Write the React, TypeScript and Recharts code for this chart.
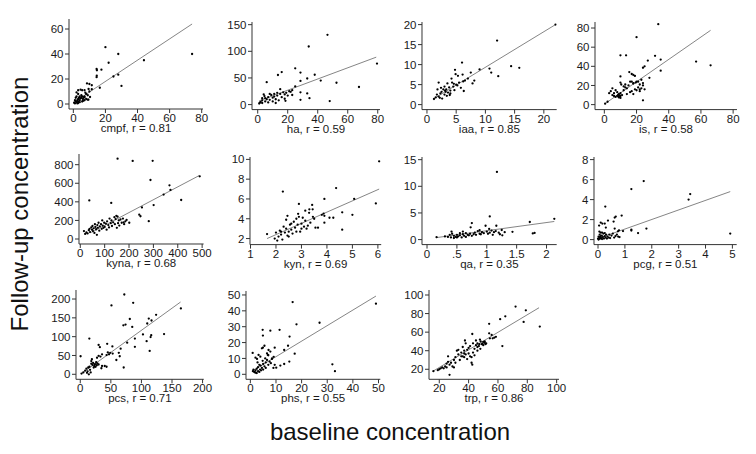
import React from 'react';
import { ScatterChart, Scatter, XAxis, YAxis, ReferenceLine } from 'recharts';

type Pt = [number, number];

const names = ['cmpf', 'ha', 'iaa', 'is', 'kyna', 'kyn', 'qa', 'pcg', 'pcs', 'phs', 'trp'];
const rValues = [0.81, 0.59, 0.85, 0.58, 0.68, 0.69, 0.35, 0.51, 0.71, 0.55, 0.86];

const cmpfPts: Pt[] = [
  [20, 45.5], [28, 40], [74, 40], [44, 35], [22, 33], [14.5, 28], [14.7, 27], [17.5, 27.5],
  [14.6, 22.7], [14.5, 21.5], [25, 22], [28, 23.5], [16.5, 13], [30, 14.5], [8.5, 16.5], [10, 16],
  [11.5, 15], [9.5, 12], [11.5, 11.8], [3, 11], [4.5, 11.5], [5.5, 11], [7, 11], [2, 9.3], [3, 8],
  [6.9, 5.3], [9.4, 3.5], [10.4, 5.6], [0.5, 1], [1, 0.5], [1.5, 2], [1, 3], [2, 1.5], [2.5, 3],
  [3, 2], [3, 4], [3.5, 5], [4, 3], [4, 6], [4.5, 4.5], [5, 5], [5, 7], [5.5, 6], [6, 4], [6, 2.5],
  [6.5, 5.5], [7, 3], [7, 6], [8, 4], [8, 8], [9, 3.5], [10, 10], [2, 6], [1.5, 5], [2.5, 0.5],
  [4, 1.5], [5.5, 2], [3, 0.8], [7.5, 9], [9, 7],
];
const haPts: Pt[] = [
  [46.5, 131], [34, 109], [25, 68], [16, 61], [28.5, 60], [13.5, 55.5], [38, 56], [6, 42], [33, 49],
  [28.5, 44.5], [42, 45], [52.5, 41], [79.5, 77], [67.5, 33], [48, 6.5], [28.5, 9], [34.5, 12],
  [33, 21], [28.5, 23], [25, 34], [15, 29], [18, 11], [18.5, 7], [1, 2], [1.5, 3.5], [2, 5], [3, 3],
  [3, 8], [4, 19], [4.5, 16], [5, 12], [5, 6], [6, 10], [7, 14], [7, 4], [8, 9], [9, 18], [10, 6],
  [10, 13], [11, 20], [11, 15], [12, 10], [12, 3], [13, 17], [14, 8], [15, 20], [16, 14], [17, 23],
  [18, 19], [19, 22], [20, 17], [21, 25], [22, 24], [23, 27], [23, 18], [8, 20], [3, 12], [13, 22],
];
const iaaPts: Pt[] = [
  [22, 20], [12, 16], [6, 10.5], [14.4, 9.6], [15.8, 9.2], [10.7, 9], [11, 8], [12.2, 7.1], [9, 8.8],
  [7.5, 8], [8.1, 6], [7.8, 5.3], [6.3, 3.4], [4.8, 8.7], [4.9, 7.6], [5.3, 7.2], [6.1, 7.5], [4.2, 6.5],
  [1.2, 1.4], [1.5, 1.8], [1.7, 2.5], [1.8, 3.8], [2, 5.5], [2, 2], [2.2, 1.7], [2.3, 2.8], [2.5, 3.2],
  [2.6, 1.5], [2.8, 3.8], [3, 2.5], [3, 4.5], [3.2, 3.2], [3.3, 3.8], [3.4, 2.2], [3.5, 5.3], [3.6, 3],
  [3.8, 4.3], [4, 2.8], [4, 3.5], [4.3, 5.5], [4.5, 4.5], [4.7, 3.6], [5, 5], [5.2, 4.8], [5.5, 5.5],
  [5.8, 4.2], [6.5, 6], [7, 6.5], [2.4, 4.2], [3.1, 3.5], [3.9, 2.4], [4.6, 5.2], [6.2, 5.8],
];
const isPts: Pt[] = [
  [33.5, 84], [20, 70.5], [10, 51.5], [13.5, 51.5], [31.5, 51], [35, 47], [57, 45], [66, 41], [27, 46],
  [25, 40], [24, 38.5], [35, 35.5], [10, 29.5], [15.5, 34], [17, 32], [18, 31], [19, 30], [28, 28],
  [17, 24], [18, 22.5], [19.5, 23], [21, 24], [23, 26], [22, 21], [24, 22.5], [10, 23], [10.5, 21],
  [24, 4.5], [0.5, 1], [2, 3], [5, 10], [6, 12], [7, 8], [8, 9], [8.5, 10], [9, 8], [9, 11], [9.5, 9.5],
  [10, 7], [10, 12], [8, 13], [7, 15], [5, 17], [11, 10], [12, 15], [12, 19], [13, 18], [14, 17],
  [14, 11], [16, 13], [17, 14], [18, 11], [19, 16], [20, 15], [21, 18], [22, 16], [23, 17], [24, 20],
  [25, 16], [22, 14], [3, 12], [4, 14], [6, 9], [9, 7.5], [10, 9], [18, 22], [20, 24], [15, 20],
  [13, 21], [16, 24],
];
const kynaPts: Pt[] = [
  [153, 865], [215, 840], [297, 842], [288, 635], [366, 578], [370, 528], [490, 675], [342, 478],
  [414, 420], [37, 415], [127, 388], [253, 340], [242, 262], [247, 245], [281, 192], [301, 365],
  [201, 175], [178, 180], [15, 85], [20, 55], [25, 70], [30, 60], [35, 95], [38, 110], [40, 75],
  [45, 125], [48, 100], [50, 140], [52, 85], [55, 115], [58, 65], [60, 160], [62, 130], [65, 105],
  [68, 45], [70, 150], [72, 120], [75, 175], [78, 90], [80, 135], [85, 160], [88, 110], [90, 200],
  [92, 145], [95, 120], [98, 175], [100, 130], [105, 165], [108, 100], [110, 190], [115, 150],
  [118, 125], [120, 220], [125, 170], [128, 200], [130, 140], [135, 180], [140, 235], [142, 160],
  [145, 215], [148, 250], [150, 120], [153, 240], [155, 170], [158, 200], [160, 145], [165, 210],
  [170, 175], [175, 220], [180, 160], [185, 190], [190, 205],
];
const kynPts: Pt[] = [
  [6.05, 9.8], [2.27, 6.75], [4.36, 7.1], [5.07, 6.0], [3.9, 6.0], [5.92, 5.55], [2.9, 5.5], [3.42, 5.4],
  [3.31, 4.95], [3.44, 4.95], [3.15, 4.82], [5.0, 4.4], [4.6, 4.65], [3.87, 4.52], [3.8, 4.4], [3.9, 4.3],
  [4.1, 4.1], [4.25, 4.1], [3.9, 3.6], [4.6, 2.9], [3.55, 3.1], [3.65, 3.1], [2.45, 4.3], [2.87, 4.5],
  [1.65, 2.45], [1.95, 2.0], [2.0, 2.6], [2.05, 1.8], [2.1, 2.2], [2.15, 2.8], [2.2, 2.4], [2.25, 1.9],
  [2.3, 3.2], [2.35, 2.6], [2.4, 3.0], [2.45, 2.3], [2.5, 2.7], [2.55, 3.4], [2.6, 2.9], [2.65, 2.5],
  [2.7, 3.7], [2.75, 3.1], [2.8, 2.7], [2.85, 3.4], [2.9, 4.2], [2.95, 2.7], [3.0, 3.5], [3.0, 3.0],
  [3.05, 4.1], [3.1, 3.2], [3.15, 3.8], [3.25, 3.3], [3.3, 4.6], [3.35, 3.6], [3.45, 4.2], [3.5, 4.0],
  [2.4, 3.9], [2.6, 3.5], [2.8, 4.0], [3.2, 3.0], [2.2, 2.7], [2.5, 2.2],
];
const qaPts: Pt[] = [
  [1.17, 12.7], [1.05, 4.35], [0.75, 3.1], [0.98, 2.6], [1.16, 2.6], [0.73, 2.3], [1.72, 3.3], [2.13, 3.9],
  [1.77, 1.15], [1.8, 1.25], [1.43, 1.45], [1.3, 1.4], [1.22, 1.0], [1.26, 0.8], [1.12, 1.4], [1.1, 0.9],
  [0.16, 0.45], [0.41, 1.5], [0.6, 1.5], [0.88, 1.75], [1.04, 2.0], [0.3, 0.6], [0.35, 0.5], [0.38, 0.9],
  [0.4, 0.4], [0.42, 1.1], [0.45, 0.7], [0.48, 0.5], [0.5, 0.9], [0.52, 0.6], [0.55, 0.8], [0.58, 0.4],
  [0.6, 1.0], [0.62, 0.7], [0.65, 1.2], [0.68, 0.9], [0.7, 0.8], [0.72, 1.1], [0.75, 0.7], [0.78, 1.0],
  [0.8, 1.3], [0.82, 0.9], [0.85, 1.6], [0.88, 1.1], [0.9, 1.0], [0.92, 1.4], [0.95, 1.2], [1.0, 1.5],
  [1.02, 1.1], [1.05, 1.3], [1.08, 1.7], [1.15, 1.6], [1.2, 1.3], [1.25, 1.8], [0.5, 0.4], [0.45, 0.3],
  [0.65, 0.5], [0.55, 1.2],
];
const pcgPts: Pt[] = [
  [1.7, 5.85], [1.24, 5.05], [3.37, 4.0], [3.43, 4.55], [4.92, 0.6], [1.8, 1.1], [1.24, 1.0], [1.24, 0.9],
  [1.49, 0.65], [0.27, 3.3], [0.88, 2.4], [0.62, 2.2], [0.66, 2.3], [0.37, 1.9], [0.1, 1.7], [0.16, 1.6],
  [0.04, 1.4], [0.25, 1.6], [0.58, 1.8], [0.29, 1.2], [0.62, 1.1], [0.74, 0.83], [0.78, 0.93], [0.93, 0.85],
  [0.0, 0.1], [0.02, 0.3], [0.03, 0.05], [0.05, 0.2], [0.06, 0.5], [0.08, 0.1], [0.1, 0.35], [0.1, 0.7],
  [0.12, 0.15], [0.14, 0.4], [0.15, 0.05], [0.18, 0.25], [0.2, 0.6], [0.22, 0.1], [0.25, 0.35], [0.28, 0.2],
  [0.3, 0.5], [0.33, 0.1], [0.35, 0.3], [0.4, 0.2], [0.42, 0.5], [0.45, 0.15], [0.5, 0.4], [0.55, 0.6],
  [0.6, 0.2], [0.65, 0.35], [0.7, 0.5], [0.75, 0.3], [0.8, 0.25], [0.05, 0.8], [0.15, 0.7], [0.25, 0.65],
  [0.02, 0.0], [0.07, 0.25],
];
const pcsPts: Pt[] = [
  [72, 212], [86.5, 190], [51, 183], [81, 147], [70.5, 130], [74, 132], [85, 126], [124, 158], [112, 148],
  [116.5, 143], [109.5, 135], [164.5, 175], [137, 107], [102.5, 106], [116, 104], [115, 99], [108.5, 88],
  [89.3, 95], [89.3, 73], [113.5, 62], [76.7, 84], [66, 68], [52.5, 74], [63, 57], [64.5, 48], [53, 55],
  [59, 38], [71, 18], [0.5, 48], [14.8, 95], [30, 78], [32, 72], [44, 81], [45, 58], [47, 53], [49, 57],
  [43, 51], [35.6, 53], [33, 47], [30, 49], [27.4, 44], [40, 22], [43, 20], [34.5, 16], [35.6, 22],
  [2, 2], [5, 5], [8, 10], [10, 15], [12, 8], [14, 0], [15, 20], [16, 12], [18, 28], [18, 35], [20, 25],
  [21, 30], [22, 18], [23, 22], [24, 27], [25, 20], [26, 32], [27, 24], [28, 29], [30, 26], [19, 40],
  [13, 18], [11, 4], [17, 5],
];
const phsPts: Pt[] = [
  [16.5, 45.5], [49, 44.5], [27, 32.5], [18, 31.5], [4.8, 28], [7.8, 27.5], [11.4, 28], [4.9, 24.4],
  [15.3, 23.8], [5.5, 18], [4.9, 16.8], [4.5, 16.4], [9.5, 16.8], [7.8, 14.3], [7.1, 15.3], [14.7, 18],
  [13.2, 15.3], [17.3, 13], [0.9, 13.5], [2, 10.5], [2.6, 9.7], [3.2, 12.2], [3.9, 11.1], [6.5, 13.2],
  [6.8, 12.2], [8.4, 9.7], [9.1, 11], [10.1, 4.2], [11.7, 5.5], [13.2, 6.5], [15.2, 8], [32, 6.3], [33, 2],
  [1, 2], [1.2, 3], [1.5, 1.5], [2, 2.5], [2.2, 1], [2.5, 3.5], [3, 2], [3, 4.5], [3.5, 1.5], [3.8, 3],
  [4, 5.5], [4.2, 2.5], [4.5, 4], [5, 6.5], [5, 3], [5.5, 5], [6, 7.5], [6, 4], [6.5, 9], [7, 6], [7.5, 8],
  [8, 7], [8.5, 10], [9, 4], [9.5, 6], [3.5, 6], [2.8, 7.5], [4.8, 8.5], [5.8, 10], [7, 12], [1.8, 1.2],
  [2.5, 0.8],
];
const trpPts: Pt[] = [
  [72, 87.5], [79, 83.5], [77.5, 71], [88.5, 66], [65, 77], [61.5, 74], [54, 69], [42.5, 58], [63, 45],
  [54, 58.7], [55.7, 57], [58.6, 55], [57.5, 54], [56.4, 53.3], [54.5, 53.3], [37.5, 51], [47.7, 52],
  [48.2, 50], [50, 49.5], [51, 48.5], [49.5, 47.5], [51.5, 47], [45, 51], [46, 48], [47.3, 47], [42, 27],
  [42.5, 25], [27, 14], [16, 18], [19, 19], [20, 20], [21, 21], [22, 22], [23, 21], [24, 23], [25, 26],
  [25, 22], [26, 34], [26, 28], [27, 25], [28, 27], [29, 23], [30, 22], [30, 30], [31, 33], [31, 27],
  [32, 40], [33, 36], [33, 41], [34, 30], [35, 38], [36, 34], [36, 44], [37, 33], [37, 40], [38, 36],
  [38, 48], [39, 31], [40, 37], [40, 43], [41, 45], [41, 34], [42, 33], [43, 48], [43, 38], [44, 42],
  [44, 35], [45, 46], [46, 40], [46, 44], [47, 45], [48, 42], [49, 47], [50, 46], [51, 50], [52, 48],
  [35, 34], [37, 37], [39, 41],
];

// fitted line end points
const fits: Pt[][] = [
  [[0.3, 1.3], [74, 64]],
  [[1, 7], [79, 89]],
  [[1.2, 1.5], [22, 20]],
  [[0.4, 1], [66, 77.6]],
  [[45, 70], [488, 683]],
  [[1.65, 2.0], [6.05, 7.0]],
  [[0.157, 0.37], [2.13, 3.4]],
  [[0, 0.1], [4.92, 4.8]],
  [[2.8, 2.7], [164, 192]],
  [[0.7, 2], [49, 49.3]],
  [[16, 18.2], [88, 86.3]],
];

const xTicks: number[][] = [
  [0, 20, 40, 60, 80], [0, 20, 40, 60, 80], [0, 5, 10, 15, 20], [0, 20, 40, 60, 80],
  [0, 100, 200, 300, 400, 500], [1, 2, 3, 4, 5, 6], [0, 0.5, 1, 1.5, 2], [0, 1, 2, 3, 4, 5],
  [0, 50, 100, 150, 200], [0, 10, 20, 30, 40, 50], [20, 40, 60, 80, 100],
];
const yTicks: number[][] = [
  [0, 20, 40, 60], [0, 50, 100, 150], [0, 5, 10, 15, 20], [0, 20, 40, 60, 80],
  [0, 200, 400, 600, 800], [2, 4, 6, 8, 10], [0, 5, 10, 15], [0, 2, 4, 6, 8],
  [0, 50, 100, 150, 200], [0, 10, 20, 30, 40, 50], [20, 40, 60, 80, 100],
];

const allPts = [cmpfPts, haPts, iaaPts, isPts, kynaPts, kynPts, qaPts, pcgPts, pcsPts, phsPts, trpPts];

// plot-area box (page px) and axis ranges for each panel
const layout = [
  { l: 69, r: 203, t: 19.3, b: 109.3, xd: [-2.7, 80.8], yd: [-4, 68] },
  { l: 252, r: 380, t: 21.7, b: 109.3, xd: [-3.8, 81.5], yd: [-9.4, 155] },
  { l: 422.3, r: 557, t: 21.7, b: 109.3, xd: [-0.85, 22.2], yd: [-1.25, 20.65] },
  { l: 595, r: 737, t: 21.7, b: 109.3, xd: [-5.8, 82.4], yd: [-5.2, 86.3] },
  { l: 78.7, r: 203.3, t: 154.3, b: 244.3, xd: [-5.3, 506], yd: [-53.8, 915] },
  { l: 249.5, r: 380.7, t: 156.7, b: 244.3, xd: [0.98, 6.13], yd: [1.39, 10.24] },
  { l: 422.3, r: 557, t: 156.7, b: 244.3, xd: [-0.084, 2.17], yd: [-0.94, 15.5] },
  { l: 594.3, r: 737, t: 156.7, b: 244.3, xd: [-0.15, 5.16], yd: [-0.5, 8.26] },
  { l: 75.7, r: 203.5, t: 290, b: 379.3, xd: [-7, 202], yd: [-13.3, 224] },
  { l: 245.7, r: 380, t: 291, b: 379.3, xd: [-1.7, 50.7], yd: [-3.15, 52.5] },
  { l: 429, r: 559, t: 290, b: 379.3, xd: [13, 101.6], yd: [9.2, 105.4] },
];

const FONT = '"Liberation Sans", Arial, sans-serif';
const YW = 40;
const XH = 28;
const TOP = 5;
const RIGHT = 16;

const fmt = (v: number) => String(v).replace(/^0\./, '.');
const dot = (p: any) => <circle cx={p.cx} cy={p.cy} r={1.15} fill="#000" />;

function Panel({ i }: { i: number }) {
  const box = layout[i];
  const data = allPts[i].map(([x, y]) => ({ x, y }));
  const [a, b] = fits[i];
  const w = box.r - box.l;
  const h = box.b - box.t;
  const tick = { fontSize: 11.5, fill: '#1a1a1a', fontFamily: FONT };
  return (
    <div style={{ position: 'absolute', left: box.l - YW, top: box.t - TOP }}>
      <ScatterChart width={YW + w + RIGHT} height={TOP + h + XH} margin={{ top: TOP, right: RIGHT, bottom: 0, left: 0 }}>
        <XAxis
          type="number"
          dataKey="x"
          domain={box.xd}
          ticks={xTicks[i]}
          allowDataOverflow
          interval={0}
          tickFormatter={fmt}
          tick={tick}
          tickSize={4}
          tickMargin={1}
          height={XH}
          stroke="#333"
          label={{
            value: `${names[i]}, r = ${rValues[i].toFixed(2)}`,
            position: 'insideBottom',
            offset: 5,
            style: { fontSize: 11.5, fill: '#1a1a1a', fontFamily: FONT },
          }}
        />
        <YAxis
          type="number"
          dataKey="y"
          domain={box.yd}
          ticks={yTicks[i]}
          allowDataOverflow
          interval={0}
          tickFormatter={fmt}
          tick={tick}
          tickSize={4}
          tickMargin={1.5}
          width={YW}
          stroke="#333"
        />
        <ReferenceLine
          segment={[{ x: a[0], y: a[1] }, { x: b[0], y: b[1] }]}
          stroke="#777"
          strokeWidth={0.9}
          ifOverflow="visible"
        />
        <Scatter data={data} shape={dot} isAnimationActive={false} />
      </ScatterChart>
    </div>
  );
}

export default function App() {
  return (
    <div style={{ position: 'absolute', left: 0, top: 0, width: 756, height: 454, background: '#fff', fontFamily: FONT }}>
      {names.map((_, i) => (
        <Panel key={i} i={i} />
      ))}
      <div
        style={{
          position: 'absolute',
          left: 20,
          top: 204,
          transform: 'translate(-50%, -50%) rotate(-90deg)',
          whiteSpace: 'nowrap',
          fontSize: 24,
          color: '#111',
        }}
      >
        Follow-up concentration
      </div>
      <div
        style={{
          position: 'absolute',
          left: 390,
          top: 432,
          transform: 'translate(-50%, -50%)',
          whiteSpace: 'nowrap',
          fontSize: 24,
          color: '#111',
        }}
      >
        baseline concentration
      </div>
    </div>
  );
}
